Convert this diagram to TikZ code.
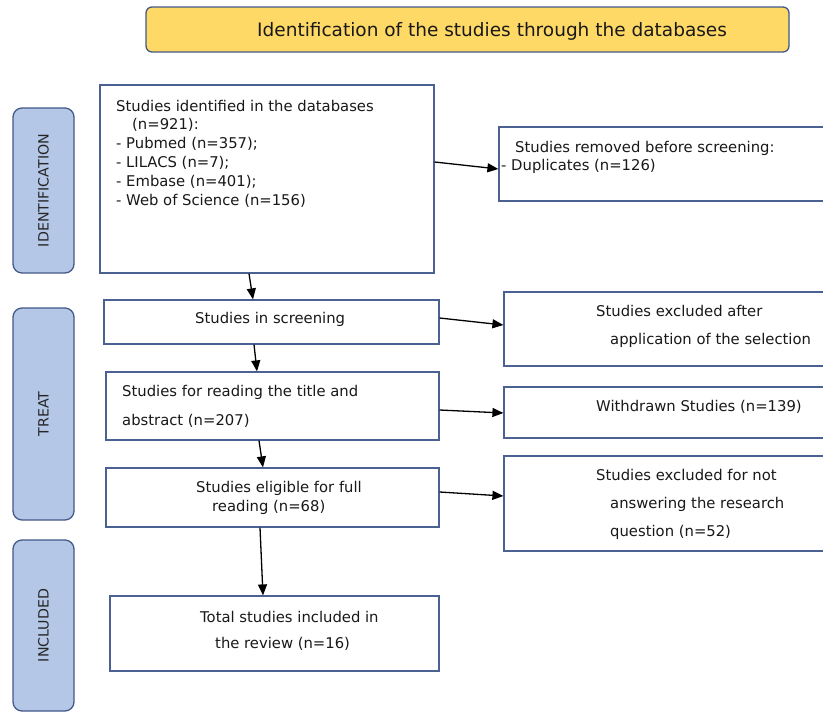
\documentclass[tikz,border=0pt]{standalone}
\usepackage{fontspec}
\setmainfont{DejaVu Sans}
\usetikzlibrary{arrows.meta}
\definecolor{bordc}{HTML}{4A6191}
\definecolor{sidefill}{HTML}{B4C7E7}
\definecolor{sidebord}{HTML}{42598A}
\definecolor{goldfill}{HTML}{FFD966}
\tikzset{
  box/.style={draw=bordc, line width=1.2pt, fill=white, inner sep=0pt},
  sidebox/.style={draw=sidebord, line width=1.3pt, fill=sidefill, rounded corners=9pt, minimum width=61pt, inner sep=0pt},
  sidelabel/.style={rotate=90, font=\fontsize{14.2}{16}\selectfont, text=black!85, inner sep=0pt},
  txt/.style={anchor=base west, inner sep=0pt, font=\fontsize{14.8}{17}\selectfont, text=black!90},
  arr/.style={line width=1.3pt, -{Triangle[length=11pt,width=9pt]}}
}
\begin{document}
\begin{tikzpicture}[x=1pt,y=-1pt]
\useasboundingbox (0,0) rectangle (823,712);
% title
\node[draw=sidebord, line width=1.3pt, fill=goldfill, rounded corners=6pt, minimum width=643pt, minimum height=45pt, inner sep=0pt] (head) at (467.5,29.5) {};
\node[anchor=base west, inner sep=0pt, font=\fontsize{18.5}{21}\selectfont, text=black!90] (headtxt) at (257,36) {Identification of the studies through the databases};
% side boxes
\node[sidebox, minimum height=165pt] (sid) at (43.5,190.5) {};
\node[sidelabel] (sidt) at (sid.center) {IDENTIFICATION};
\node[sidebox, minimum height=212pt] (str) at (43.5,414) {};
\node[sidelabel] (strt) at (str.center) {TREAT};
\node[sidebox, minimum height=171pt] (sin) at (43.5,625.5) {};
\node[sidelabel] (sint) at (sin.center) {INCLUDED};
% main boxes
\node[box, minimum width=334pt, minimum height=188pt] (b1) at (267,179) {};
\node[box, minimum width=331pt, minimum height=74pt] (rem) at (664.5,164) {};
\node[box, minimum width=335pt, minimum height=44pt] (scr) at (271.5,322) {};
\node[box, minimum width=326pt, minimum height=74pt] (ex1) at (667,329) {};
\node[box, minimum width=333pt, minimum height=68pt] (tit) at (272.5,406) {};
\node[box, minimum width=326pt, minimum height=51pt] (wd) at (667,412.5) {};
\node[box, minimum width=333pt, minimum height=59pt] (eli) at (272.5,497.5) {};
\node[box, minimum width=326pt, minimum height=95pt] (ex3) at (667,503.5) {};
\node[box, minimum width=329pt, minimum height=75pt] (tot) at (274.5,633.5) {};
% texts
\node[txt] (b1a) at (116,111) {Studies identified in the databases};
\node[txt] (b1b) at (132,129) {(n=921):};
\node[txt] (b1c) at (116,148) {- Pubmed (n=357);};
\node[txt] (b1d) at (116,167) {- LILACS (n=7);};
\node[txt] (b1e) at (116,186) {- Embase (n=401);};
\node[txt] (b1f) at (116,205) {- Web of Science (n=156)};
\node[txt] (rema) at (515,152) {Studies removed before screening:};
\node[txt] (remb) at (501,170) {- Duplicates (n=126)};
\node[txt] (scra) at (195,323) {Studies in screening};
\node[txt] (ex1a) at (596,316) {Studies excluded after};
\node[txt] (ex1b) at (610,344) {application of the selection};
\node[txt] (tita) at (122,396) {Studies for reading the title and};
\node[txt] (titb) at (122,425) {abstract (n=207)};
\node[txt] (wda) at (596,411) {Withdrawn Studies (n=139)};
\node[txt] (elia) at (196,492) {Studies eligible for full};
\node[txt] (elib) at (212,511) {reading (n=68)};
\node[txt] (ex3a) at (596,480) {Studies excluded for not};
\node[txt] (ex3b) at (610,508) {answering the research};
\node[txt] (ex3c) at (610,536) {question (n=52)};
\node[txt] (tota) at (200,622) {Total studies included in};
\node[txt] (totb) at (215,648) {the review (n=16)};
% arrows
\draw[arr] ([yshift=17pt]b1.east) -- ([yshift=-5pt]rem.west);
\draw[arr] ([xshift=-18pt]b1.south) -- ([xshift=-18.5pt]scr.north);
\draw[arr] ([yshift=4pt]scr.east) -- ([yshift=4pt]ex1.west);
\draw[arr] ([xshift=-17.5pt]scr.south) -- ([xshift=-15.5pt]tit.north);
\draw[arr] ([yshift=-4pt]tit.east) -- ([yshift=-0.5pt]wd.west);
\draw[arr] ([xshift=-13.5pt]tit.south) -- ([xshift=-9.5pt]eli.north);
\draw[arr] ([yshift=5.5pt]eli.east) -- ([yshift=7.5pt]ex3.west);
\draw[arr] ([xshift=-12.5pt]eli.south) -- ([xshift=-11.5pt]tot.north);
\end{tikzpicture}
\end{document}
